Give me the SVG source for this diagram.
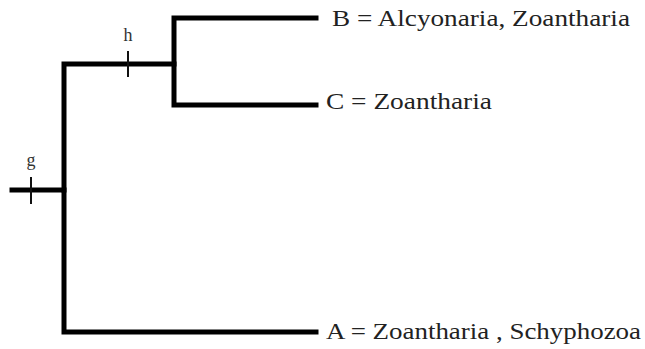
<svg xmlns="http://www.w3.org/2000/svg" width="645" height="349" viewBox="0 0 645 349">
<style>
.br{stroke:#000;stroke-width:5;fill:none;stroke-linecap:square;stroke-linejoin:miter}
.tk{stroke:#111;stroke-width:2;fill:none}
.lb{font-family:"Liberation Serif",serif;font-size:24px;fill:#222}
.sm{font-family:"Liberation Serif",serif;font-size:18px;fill:#333;text-anchor:middle}
</style>
<rect width="645" height="349" fill="#fff"/>
<g id="connectors">
<path class="br" d="M12 190 H64 V332 H316"/>
<path class="br" d="M64 190 V64 H174"/>
<path class="br" d="M316 18 H174 V105 H316"/>
<line class="tk" x1="31" y1="177" x2="31" y2="204"/>
<line class="tk" x1="128" y1="51" x2="128" y2="77"/>
</g>
<g id="g"><text class="sm" x="31" y="166">g</text></g>
<g id="h"><text class="sm" x="128" y="41">h</text></g>
<g id="B"><text class="lb" x="332" y="26" textLength="298" lengthAdjust="spacingAndGlyphs">B = Alcyonaria, Zoantharia</text></g>
<g id="C"><text class="lb" x="326" y="109" textLength="166" lengthAdjust="spacingAndGlyphs">C = Zoantharia</text></g>
<g id="A"><text class="lb" x="326" y="339" textLength="315" lengthAdjust="spacingAndGlyphs">A = Zoantharia , Schyphozoa</text></g>
</svg>
